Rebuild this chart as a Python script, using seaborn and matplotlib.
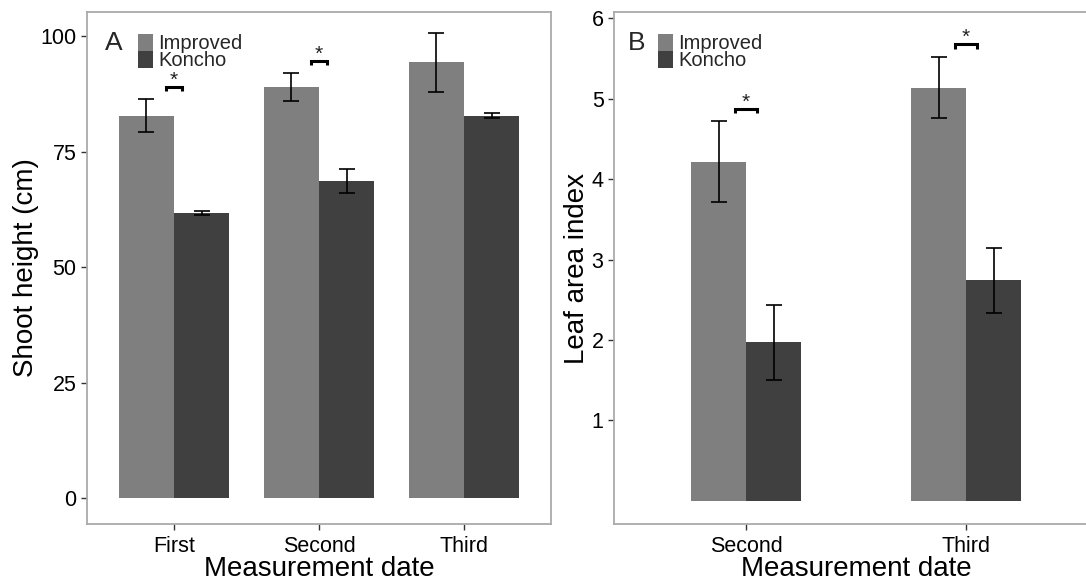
import numpy as np
import pandas as pd
import matplotlib
matplotlib.use("Agg")
import matplotlib.pyplot as plt
from matplotlib.patches import Rectangle
import seaborn as sns

# ---- data ----
dates_a = ["First", "Second", "Third"]
height_improved = [82.8, 88.9, 94.3]
height_improved_se = [3.5, 3.0, 6.4]
height_koncho = [61.7, 68.7, 82.8]
height_koncho_se = [0.5, 2.6, 0.5]
height_sig = ["First", "Second"]

dates_b = ["Second", "Third"]
lai_improved = [4.22, 5.14]
lai_improved_se = [0.50, 0.38]
lai_koncho = [1.97, 2.74]
lai_koncho_se = [0.47, 0.40]
lai_sig = ["Second", "Third"]

varieties = ["Improved", "Koncho"]
colors = {"Improved": "#7f7f7f", "Koncho": "#404040"}

sns.set_theme(style="white")
plt.rcParams["font.family"] = ["Liberation Sans", "DejaVu Sans"]

fig = plt.figure(figsize=(10.86, 5.82), dpi=100)
W, H = 1086, 582
axA = fig.add_axes([87 / W, 1 - 524 / H, (551 - 87) / W, 512 / H])
axB = fig.add_axes([614 / W, 1 - 524 / H, 484 / W, 512 / H])


def make_df(dates, imp, imp_se, kon, kon_se):
    return pd.DataFrame({
        "date": dates * 2,
        "variety": ["Improved"] * len(dates) + ["Koncho"] * len(dates),
        "value": list(imp) + list(kon),
        "se": list(imp_se) + list(kon_se),
    })


def panel(ax, df, dates, width, ylim, yticks, ylabel, letter, sig, leg_x, half):
    sns.barplot(data=df, x="date", y="value", hue="variety", order=dates,
                hue_order=varieties, palette=colors, width=width,
                errorbar=None, saturation=1, legend=False, ax=ax,
                edgecolor="none", linewidth=0)
    # error bars from bar patches
    for cont, var in zip(ax.containers, varieties):
        sub = df[df.variety == var].set_index("date").loc[dates]
        xs = [p.get_x() + p.get_width() / 2 for p in cont.patches]
        ax.errorbar(xs, sub["value"].values, yerr=sub["se"].values, fmt="none",
                    ecolor="black", elinewidth=1.2, capsize=6.1, capthick=1.2,
                    zorder=5)
    rng = ylim[1] - ylim[0]
    # significance brackets
    for d in sig:
        i = dates.index(d)
        top = (df[df.date == d]["value"] + df[df.date == d]["se"]).max()
        y1 = top + 0.025 * rng
        y0 = y1 - 0.009 * rng
        ax.plot([i - half, i - half, i + half, i + half], [y0, y1, y1, y0],
                color="black", lw=2.2, solid_capstyle="butt",
                solid_joinstyle="miter", zorder=6)
        ax.annotate("*", xy=(i, y1), xytext=(0, 0.8), textcoords="offset points",
                    ha="center", va="baseline", fontsize=15, color="#222222")
    ax.set_xlim(-0.6, len(dates) - 0.4)
    ax.set_ylim(*ylim)
    ax.set_yticks(yticks)
    ax.set_yticklabels([str(t) for t in yticks])
    ax.set_xlabel("Measurement date", fontsize=20, labelpad=-1, color="black")
    ax.set_ylabel(ylabel, fontsize=20, labelpad=1, color="black")
    ax.tick_params(axis="x", pad=5)
    ax.tick_params(axis="y", pad=3.5)
    ax.tick_params(axis="both", which="both", direction="out", length=4,
                   width=1, color="#333333", labelsize=15.5, labelcolor="black",
                   bottom=True, left=True)
    for s in ax.spines.values():
        s.set_color("#aaaaaa")
        s.set_linewidth(1.3)
    ax.text(0.028 if letter == "B" else 0.038, 0.94, letter,
            transform=ax.transAxes, fontsize=19, va="center", ha="left")
    # legend keys
    axw = ax.get_position().width * W
    kx0, kw = leg_x, 15 / axw
    kh = 17 / 512
    for j, var in enumerate(varieties):
        ytop = 1 - 22 / 512 - j * kh
        ax.add_patch(Rectangle((kx0, ytop - kh), kw, kh, transform=ax.transAxes,
                               facecolor=colors[var], edgecolor="none",
                               clip_on=False, zorder=7))
        ax.text(kx0 + kw + 5 / axw, ytop - kh / 2 - 0.002,
                var, transform=ax.transAxes, fontsize=14.5, va="center",
                ha="left", zorder=8)


dfA = make_df(dates_a, height_improved, height_improved_se, height_koncho, height_koncho_se)
dfB = make_df(dates_b, lai_improved, lai_improved_se, lai_koncho, lai_koncho_se)

panel(axA, dfA, dates_a, 0.76, (-5.6, 105.2), [0, 25, 50, 75, 100],
      "Shoot height (cm)", "A", height_sig, (138 - 87) / 464, 0.055)
panel(axB, dfB, dates_b, 0.5, (-0.29, 6.08), [1, 2, 3, 4, 5, 6],
      "Leaf area index", "B", lai_sig, (658 - 614) / 484, 0.052)

fig.savefig("out.png", dpi=100, facecolor="white")
